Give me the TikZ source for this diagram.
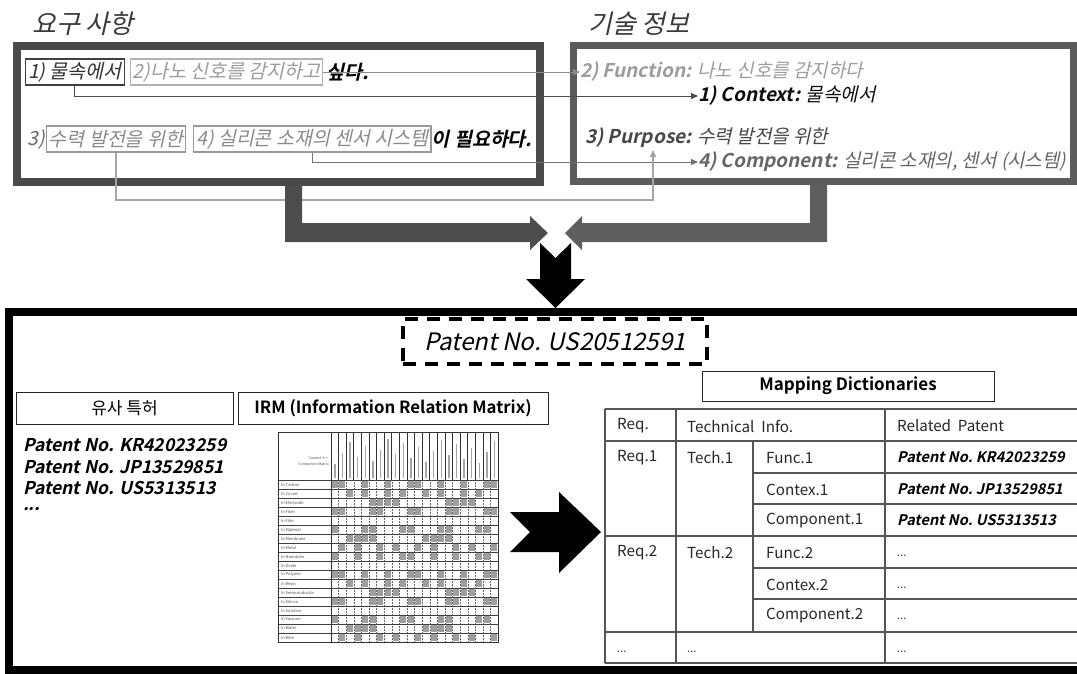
\documentclass[tikz,border=0pt]{standalone}
\usepackage{fontspec}
\setmainfont{Noto Sans CJK KR}[
  BoldFont={Noto Sans CJK KR Bold},
  ItalicFont={Noto Sans CJK KR},
  ItalicFeatures={FakeSlant=0.22},
  BoldItalicFont={Noto Sans CJK KR Bold},
  BoldItalicFeatures={FakeSlant=0.22}]
\usetikzlibrary{arrows.meta,calc,positioning}
\definecolor{lboxc}{HTML}{4A4A4A}
\definecolor{rboxc}{HTML}{5C5C5C}
\definecolor{larrc}{HTML}{4D4D4D}
\definecolor{rarrc}{HTML}{5E5E5E}
\definecolor{titlec}{HTML}{3A3A3A}
\definecolor{lightt}{HTML}{9C9C9C}
\definecolor{midt}{HTML}{8A8A8A}
\definecolor{tabc}{HTML}{555555}
\begin{document}
\begin{tikzpicture}[x=1pt,y=-1pt,
  titletext/.style={anchor=west,inner sep=0pt,font=\fontsize{26}{28}\selectfont\itshape,text=titlec},
  tbox/.style={draw,line width=1.1pt,anchor=west,inner xsep=2.5pt,inner ysep=0pt,minimum height=26pt,font=\fontsize{19.5}{21}\selectfont\itshape},
  ltext/.style={anchor=west,inner sep=0pt,font=\fontsize{19.5}{21}\selectfont\itshape},
  ttext/.style={anchor=west,inner sep=0pt,font=\fontsize{19}{21}\selectfont\itshape},
  conn/.style={line width=1pt,-{Triangle[length=7pt,width=6pt]}},
  hbox/.style={draw=black!85,line width=1pt,minimum height=32pt,inner sep=0pt},
  plist/.style={anchor=west,inner sep=0pt,font=\fontsize{17.6}{18}\selectfont\bfseries\itshape},
  cell/.style={anchor=west,inner sep=0pt,font=\fontsize{15.2}{15}\selectfont,text=black!85},
  pcell/.style={anchor=west,inner sep=0pt,font=\fontsize{14.6}{14}\selectfont\bfseries\itshape},
  dcell/.style={anchor=west,inner sep=0pt,font=\fontsize{11}{11}\selectfont,text=black!80},
  tline/.style={draw=tabc,line width=1.2pt},
  rowlab/.style={anchor=west,inner sep=0pt,font=\fontsize{4}{4}\selectfont,text=black!70}]
\useasboundingbox (0,0) rectangle (1077,673);

% titles
\node[titletext] (tl) at (32,24) {요구 사항};
\node[titletext] (tr) at (588,24) {기술 정보};

% top boxes
\draw[line width=8pt,lboxc] (16.5,46) rectangle (539.5,181.5);
\draw[line width=7pt,rboxc] (573.5,45.5) rectangle (1073.5,181.5);

% left box content
\node[tbox,draw=black!75,text=black!80] (n1) at (25,72) {1) 물속에서};
\node[tbox,draw=black!30,text=lightt,right=5pt of n1] (n2) {2)나노 신호를 감지하고};
\node[ltext,font=\fontsize{19.5}{21}\selectfont\bfseries\itshape,right=3pt of n2] (s1) {싶다.};
\node[ltext,text=black!60] (l3) at (27,139) {3)};
\node[tbox,draw=black!40,text=midt,right=1pt of l3] (n3) {수력 발전을 위한};
\node[tbox,draw=black!40,text=midt,right=7pt of n3] (n4) {4) 실리콘 소재의 센서 시스템};
\node[ltext,font=\fontsize{19.5}{21}\selectfont\bfseries\itshape,right=0pt of n4] (s2) {이 필요하다.};

% right box content
\node[ttext,text=lightt] (f2) at (580,72) {\bfseries 2) Function: \mdseries 나노 신호를 감지하다};
\node[ttext,text=black!95] (c1) at (698,96) {\bfseries 1) Context: \mdseries 물속에서};
\node[ttext,text=black!72] (p3) at (585,138) {\bfseries 3) Purpose: \mdseries 수력 발전을 위한};
\node[ttext,text=black!60] (c4) at (698,162) {\bfseries 4) Component: \mdseries 실리콘 소재의, 센서 (시스템)};

% thin connectors
\draw[conn,black!45] (n2.east) -- (f2.west);
\draw[conn,black!70] (n1.south) |- (c1.west);
\draw[conn,black!55] (n4.south) |- (c4.west);
\coordinate (pb) at (653,150);
\coordinate (yb) at (0,200);
\draw[conn,black!35,line width=1.5pt] (n3.south) -- (n3.south |- yb) -| (pb);

% thick L arrows
\fill[larrc] (285,185) -- (302,185) -- (302,223) -- (530,223) -- (530,216) -- (548,233)
  -- (530,250) -- (530,242) -- (285,242) -- cycle;
\fill[rarrc] (810,185) -- (827,185) -- (827,242) -- (582,242) -- (582,250) -- (565,233)
  -- (582,216) -- (582,223) -- (810,223) -- cycle;
% down arrow
\fill[black] (540,243) -- (555.5,258) -- (571,243) -- (571,279) -- (585,279) -- (555.5,308)
  -- (526,279) -- (540,279) -- cycle;

% bottom frame
\draw[line width=7.5pt] (1095,312) -- (9,312) -- (9,670) -- (1095,670);

% patent number
\node[draw,line width=4pt,dash pattern=on 13pt off 9pt,minimum width=304pt,minimum height=45pt,
  inner sep=0pt,font=\fontsize{24}{26}\selectfont\itshape] (pat) at (555,341.5) {Patent No. US20512591};

% headers
\node[hbox,minimum width=217pt,font=\fontsize{17}{18}\selectfont] (sim) at (124.5,408) {유사 특허};
\node[hbox,minimum width=310pt,font=\fontsize{16.8}{18}\selectfont\bfseries] (irm) at (393,408) {IRM (Information Relation Matrix)};
\node[hbox,minimum width=292pt,minimum height=30pt,font=\fontsize{17}{18}\selectfont\bfseries] (map) at (848,386) {Mapping Dictionaries};

% patent list
\node[plist] (pl1) at (23,445) {Patent No. KR42023259};
\node[plist] (pl2) at (23,467) {Patent No. JP13529851};
\node[plist] (pl3) at (23,488) {Patent No. US5313513};
\node[plist] (pl4) at (23,509) {...};

% big right arrow
\fill[black] (510,512) -- (559,512) -- (559,492) -- (601,532) -- (559,573) -- (559,552)
  -- (510,552) -- (530,532) -- cycle;

% IRM matrix
\begin{scope}[shift={(278,432)}]
  \fill[white] (0,0) rectangle (220,210);
  \foreach \i in {0,...,17}{
    \foreach \j in {0,...,21}{
      \pgfmathtruncatemacro{\r}{mod(\i*7+\j*13+\i*\j*3+\i*\i,10)}
      \ifnum\r<4
        \fill[black!38] ({53+\j*7.6+0.8},{48+\i*9+1}) rectangle ({53+(\j+1)*7.6-0.8},{48+(\i+1)*9-1});
      \fi
    }
  }
  \foreach \j in {0,...,21}{
    \pgfmathsetmacro{\hl}{14+mod(\j*11,26)}
    \draw[black!35,line width=1.4pt] ({53+\j*7.6+3.8},46) -- ({53+\j*7.6+3.8},{46-\hl});
  }
  \foreach \j in {0,...,22}{
    \draw[black!80,line width=0.7pt] ({53+\j*7.6},0) -- ({53+\j*7.6},48);
    \draw[black!60,line width=0.5pt,densely dotted] ({53+\j*7.6},48) -- ({53+\j*7.6},210);
  }
  \foreach \i in {0,...,18}{
    \draw[black!75,line width=0.6pt] (0,{48+\i*9}) -- (220,{48+\i*9});
  }
  \draw[black!80,line width=0.8pt] (0,0) rectangle (220,210);
  \draw[black!80,line width=1pt] (53,0) -- (53,210);
  \node[anchor=east,inner sep=0pt,font=\fontsize{3.5}{4}\selectfont,text=black!70] (ctx) at (51,26) {Context $\leftarrow$};
  \node[anchor=east,inner sep=0pt,font=\fontsize{3.5}{4}\selectfont,text=black!70] (cmx) at (51,33) {Component Matrix};
  \foreach \lab [count=\k from 0] in {In Carbon,In Circuit,In Electrode,In Fiber,In Film,In Material,In Membrane,In Metal,In Nanotube,In Oxide,In Polymer,In Resin,In Semiconductor,In Silicon,In Solution,In Vacuum,In Water,In Wire}{
    \node[rowlab] at (3,{48+\k*9+4.5}) {\lab};
  }
\end{scope}

% mapping table
\draw[tline] (605,409) -- (1080,409);
\draw[tline] (605,441) -- (1080,441);
\draw[tline] (753,473) -- (1080,473);
\draw[tline] (753,504) -- (1080,504);
\draw[tline] (605,536) -- (1080,536);
\draw[tline] (753,568) -- (1080,568);
\draw[tline] (753,599) -- (1080,599);
\draw[tline] (605,632) -- (1080,632);
\draw[tline] (605,663) -- (1080,663);
\draw[tline] (605,409) -- (605,663);
\draw[tline] (676,409) -- (676,663);
\draw[tline] (753,441) -- (753,632);
\draw[tline] (885,409) -- (885,663);

\node[cell] (h1) at (617,426) {Req.};
\node[cell] (h2) at (687,426) {Technical\ \ Info.};
\node[cell] (h3) at (897,426) {Related\ \ Patent};
\node[cell] (r1) at (617,458) {Req.1};
\node[cell] (t1) at (687,458) {Tech.1};
\node[cell] (fu1) at (766,458) {Func.1};
\node[cell] (co1) at (766,490) {Contex.1};
\node[cell] (cp1) at (766,521) {Component.1};
\node[pcell] (pp1) at (897,457) {Patent No.\ KR42023259};
\node[pcell] (pp2) at (897,489) {Patent No.\ JP13529851};
\node[pcell] (pp3) at (897,520) {Patent No.\ US5313513};
\node[cell] (r2) at (617,553) {Req.2};
\node[cell] (t2) at (687,553) {Tech.2};
\node[cell] (fu2) at (766,553) {Func.2};
\node[cell] (co2) at (766,585) {Contex.2};
\node[cell] (cp2) at (766,616) {Component.2};
\node[dcell] (d1) at (897,556) {...};
\node[dcell] (d2) at (897,588) {...};
\node[dcell] (d3) at (897,619) {...};
\node[dcell] (d4) at (617,652) {...};
\node[dcell] (d5) at (687,652) {...};
\node[dcell] (d6) at (897,652) {...};
\end{tikzpicture}
\end{document}
